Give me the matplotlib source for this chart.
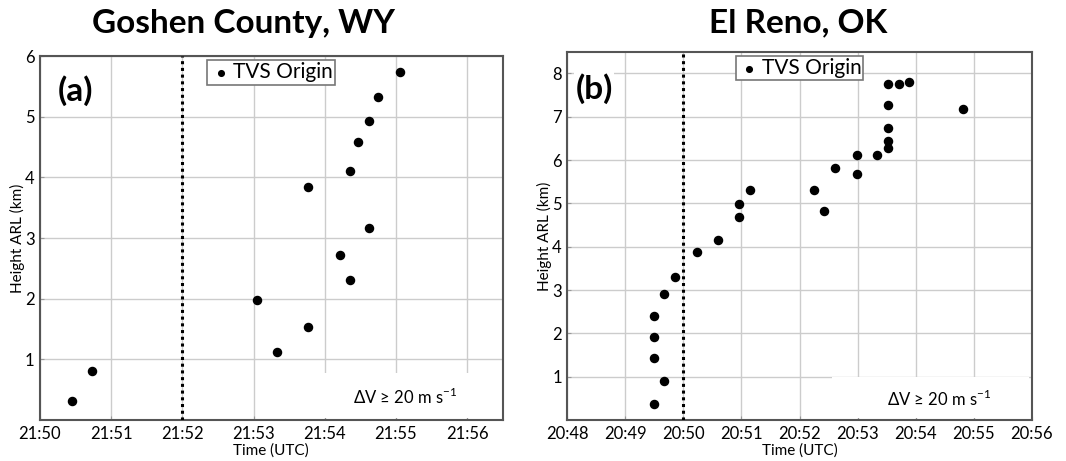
import matplotlib
matplotlib.use("Agg")
import matplotlib.pyplot as plt
from matplotlib.patches import Rectangle

plt.rcParams['font.family'] = ['Lato', 'DejaVu Sans']

# Goshen County, WY - minutes after 21:50 UTC, height ARL (km)
goshen_t = [0.45, 0.73, 3.05, 3.33, 3.77, 3.77, 4.21, 4.35, 4.35, 4.47, 4.62, 4.62, 4.75, 5.06]
goshen_h = [0.32, 0.80, 1.98, 1.12, 1.54, 3.84, 2.72, 2.31, 4.10, 4.59, 3.16, 4.93, 5.32, 5.74]
goshen_ticks = ['21:50', '21:51', '21:52', '21:53', '21:54', '21:55', '21:56']
goshen_line = 2.0

# El Reno, OK - minutes after 20:48 UTC, height ARL (km)
reno_t = [1.49, 1.67, 1.49, 1.49, 1.49, 1.67, 1.86, 2.23, 2.59, 2.96, 2.96, 3.14, 4.25, 4.43,
          4.61, 4.99, 4.99, 5.34, 5.52, 5.52, 5.52, 5.52, 5.52, 5.71, 5.89, 6.81]
reno_h = [0.36, 0.89, 1.44, 1.92, 2.41, 2.90, 3.31, 3.88, 4.16, 4.68, 4.98, 5.32, 5.32, 4.83,
          5.81, 5.67, 6.11, 6.11, 6.27, 6.45, 6.73, 7.26, 7.75, 7.75, 7.79, 7.18]
reno_ticks = ['20:48', '20:49', '20:50', '20:51', '20:52', '20:53', '20:54', '20:55', '20:56']
reno_line = 2.0

fig = plt.figure(figsize=(10.66, 4.61), dpi=100)


def setup(ax, t, h, ticks, vline, xmax, ymax, yticks, label, label_xy, note_xy, box_x, box_top):
    ax.scatter(t, h, s=34, color='black', zorder=4, label='TVS Origin')
    ax.axvline(vline, color='black', linestyle=(0, (1, 1.2)), linewidth=2.2, zorder=3)
    ax.set_xlim(0, xmax)
    ax.set_ylim(0, ymax)
    ax.set_xticks(range(len(ticks)))
    ax.set_xticklabels(ticks)
    ax.set_yticks(yticks)
    ax.tick_params(labelsize=12, direction='in', length=3, color='#999999', pad=4)
    ax.grid(True, color='#cccccc', linewidth=1.0, zorder=0)
    ax.set_axisbelow(True)
    for s in ax.spines.values():
        s.set_color('#555555')
        s.set_linewidth(1.5)
    ax.set_xlabel('Time (UTC)', fontsize=11, labelpad=1)
    ax.set_ylabel('Height ARL (km)', fontsize=11, labelpad=0)
    # white box behind the threshold note
    ax.add_patch(Rectangle((box_x, 0.005), 0.995 - box_x, box_top, transform=ax.transAxes,
                           facecolor='white', edgecolor='none', zorder=1))
    ax.text(note_xy[0], note_xy[1], r'ΔV ≥ 20 m s$^{\mathregular{-1}}$', transform=ax.transAxes,
            fontsize=12, ha='center', va='center', zorder=2)
    ax.text(label_xy[0], label_xy[1], label, transform=ax.transAxes, fontsize=24,
            fontweight='bold', ha='center', va='center', zorder=2,
            bbox=dict(facecolor='white', edgecolor='none', pad=1))
    leg = ax.legend(loc='upper center', fontsize=15, handletextpad=0.05, markerscale=0.7,
                    borderpad=0.1, handlelength=1.1, fancybox=False, framealpha=1,
                    borderaxespad=0, bbox_to_anchor=(0.5, 0.988))
    leg.get_frame().set_edgecolor('#777777')
    leg.get_frame().set_linewidth(1.2)


ax1 = fig.add_axes([0.0375, 0.0889, 0.434, 0.7896])
setup(ax1, goshen_t, goshen_h, goshen_ticks, goshen_line, 6.5, 6, range(1, 7), '(a)',
      (0.077, 0.905), (0.79, 0.063), 0.58, 0.124)

ax2 = fig.add_axes([0.5322, 0.0889, 0.4356, 0.7989])
setup(ax2, reno_t, reno_h, reno_ticks, reno_line, 8, 8.5, range(1, 9), '(b)',
      (0.058, 0.9), (0.80, 0.057), 0.57, 0.111)

fig.text(244 / 1066, 1 - 23 / 461, 'Goshen County, WY', fontsize=24, fontweight='bold',
         ha='center', va='center')
fig.text(798 / 1066, 1 - 23 / 461, 'El Reno, OK', fontsize=24, fontweight='bold',
         ha='center', va='center')

fig.savefig('out.png', dpi=100)
